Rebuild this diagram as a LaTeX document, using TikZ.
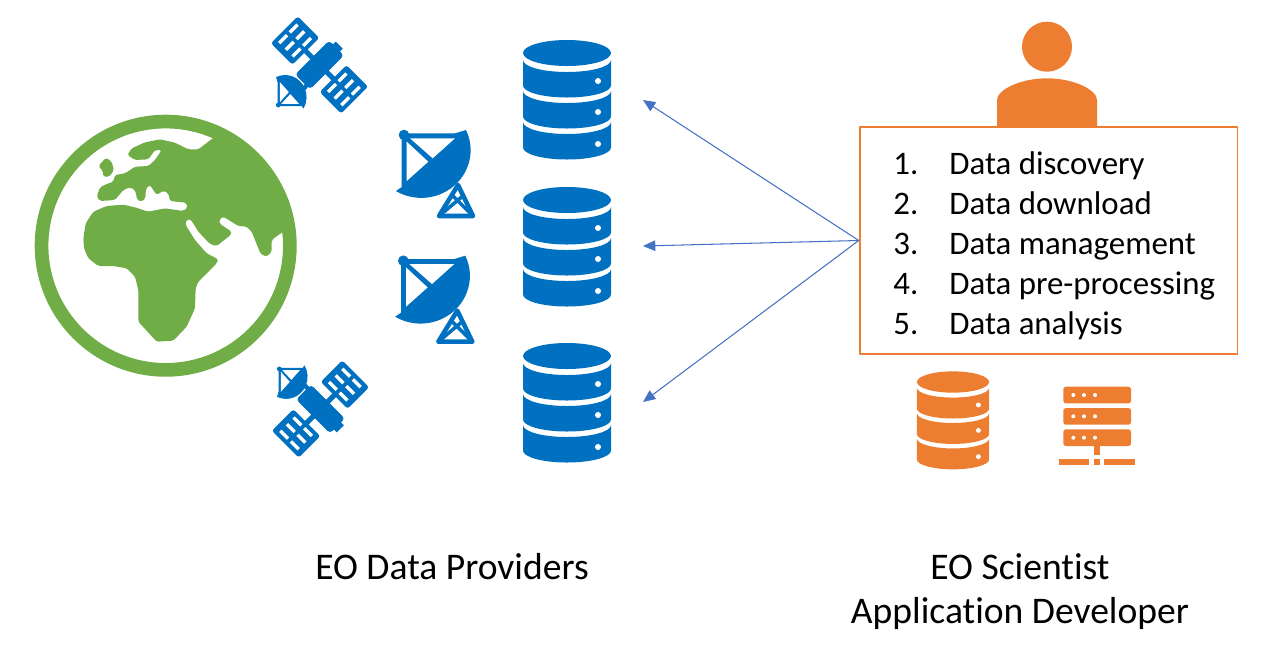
\documentclass[tikz,border=0pt]{standalone}
\usepackage{fontspec}
\setmainfont{Carlito}[Ligatures=CommonOff]
\usetikzlibrary{arrows.meta}
\definecolor{eoblue}{HTML}{0070C0}
\definecolor{eogreen}{HTML}{70AD47}
\definecolor{eoorange}{HTML}{ED7D31}
\definecolor{eoarrow}{HTML}{4472C4}
\newcommand{\dishhead}[1]{
	\fill[#1] (62,-5) arc[start angle=-25,end angle=121,x radius=49.3,y radius=47.7] -- (-2.3,52) -- (-2.3,0) -- (0,-1.7) -- (51,-1.7) -- cycle;
	\fill[#1] (0,0) circle[radius=5.3];
	\fill[white] (6,3.3) -- (51,3.3) -- (28.7,23.3) -- cycle;
	\fill[white] (2.7,6.7) -- (24.3,26.7) -- (2.7,46) -- cycle;
}
\tikzset{
	pics/dbstack/.style={code={
		\fill[#1] (0,0) ellipse[x radius=44,y radius=13];
		\foreach \ytop/\ydot in {7/28,38/59,69/91}{
			\fill[#1] (-44,\ytop) arc[start angle=180,end angle=0,x radius=44,y radius=12] -- ++(0,25.5) arc[start angle=0,end angle=180,x radius=44,y radius=12] -- cycle;
			\fill[white] (31,\ydot) circle[radius=3];
		}
	}},
	pics/dishstation/.style={code={
		\dishhead{#1}
		\draw[#1,line width=2.6pt] (54,50) -- (35,81) -- (69,81) -- cycle;
		\draw[#1,line width=2pt] (35,81) -- (60,60) (69,81) -- (48,60);
	}},
	pics/satellite/.style={code={
		\begin{scope}[rotate=-45]
			\fill[#1,rounded corners=2pt] (-10.5,-24) rectangle (10.5,24);
			\fill[#1] (-5,-28) rectangle (5,-20);
			\fill[#1] (-21,-2.5) rectangle (21,2.5);
			\foreach \cx in {-34.5,34.5}{
				\fill[#1,rounded corners=1.5pt] (\cx-15.2,-19) rectangle (\cx+15.2,19);
				\foreach \sx in {-9.4,0,9.4}
					\foreach \sy in {-7.5,7.5}
						\fill[white] (\cx+\sx-1.7,\sy-5.5) rectangle (\cx+\sx+1.7,\sy+5.5);
			}
		\end{scope}
		\draw[#1,line width=2.5pt] (-16,24) -- (-8,15);
		\begin{scope}[shift={(-41.2,40.1)},rotate=90,scale=.45]
			\dishhead{#1}
		\end{scope}
	}},
	listtext/.style={anchor=base west,inner sep=0pt,font=\fontsize{18.7}{20}\selectfont},
	captiontext/.style={anchor=base,inner sep=0pt,font=\fontsize{21.4}{24}\selectfont},
	taskbox/.style={draw=eoorange,line width=1.1pt,minimum width=215pt,minimum height=129pt,inner sep=0pt}
}
\begin{document}
\begin{tikzpicture}[line join=round,>={Triangle[length=7pt,width=6pt]},x=0.02cm,y=-0.02cm]
	\useasboundingbox (0,0) rectangle (1263,657);
	%Earth.
	\fill[eogreen,even odd rule] (165.7,245.7) circle[radius=131] (165.7,245.7) circle[radius=117.3];
	\begin{scope}[shift={(20,100)},scale=1/3]
		\fill[eogreen,rounded corners=1pt] (190,415)--(197,370)--(220,335)--(260,318)--(310,314)--(345,322)--(385,335)--(435,325)--(490,333)--(503,322)--(498,308)--(450,303)--(445,280)--(430,272)--(410,285)--(390,255)--(378,265)--(376,295)--(365,305)--(352,300)--(345,270)--(330,262)--(310,270)--(285,300)--(240,303)--(230,290)--(240,262)--(260,252)--(280,245)--(285,225)--(315,220)--(345,200)--(385,198)--(405,180)--(425,150)--(405,150)--(385,178)--(345,180)--(322,165)--(335,145)--(375,127)--(420,118)--(465,128)--(505,148)--(535,148)--(578,115)--(610,95)--(690,145)--(760,220)--(800,330)--(800,390)--(785,398)--(755,420)--(755,455)--(740,470)--(722,462)--(695,395)--(680,380)--(655,378)--(610,350)--(597,360)--(600,372)--(635,395)--(632,405)--(590,438)--(570,432)--(535,395)--(512,358)--(498,360)--(497,375)--(525,420)--(560,460)--(595,478)--(590,490)--(535,545)--(527,565)--(525,625)--(500,680)--(460,722)--(410,725)--(355,665)--(355,570)--(345,530)--(320,505)--(280,498)--(235,498)--(205,475)--(192,445)--cycle;
		\fill[eogreen,rounded corners=1pt] (235,198)--(258,173)--(275,185)--(282,210)--(268,230)--(250,230)--(248,212)--cycle;
	\end{scope}
	%Satellites and dishes.
	\pic (sattop) at (319.5,64.9) {satellite=eoblue};
	\pic[yscale=-1] (satbottom) at (320.5,409) {satellite=eoblue};
	\pic (dishtop) at (404,135) {dishstation=eoblue};
	\pic (dishbottom) at (403.3,260.7) {dishstation=eoblue};
	%Data stores.
	\pic (dbone) at (567,53) {dbstack=eoblue};
	\pic (dbtwo) at (567,200) {dbstack=eoblue};
	\pic (dbthree) at (567,356) {dbstack=eoblue};
	\pic[scale=.82] (dbown) at (953,382) {dbstack=eoorange};
	%Person.
	\fill[eoorange] (1047,46.7) circle[radius=25];
	\fill[eoorange] (997,127)--(997,100) .. controls (997,90) and (1020,78.3) .. (1047,78.3) .. controls (1074,78.3) and (1097,90) .. (1097,100)--(1097,127)--cycle;
	%Task list.
	\node[taskbox,fill=white] (tasks) at (1048.6,240.5) {};
	\foreach \n/\ybase/\txt in {1/174.5/Data discovery,2/214.5/Data download,3/254.5/Data management,4/294.5/Data pre-processing,5/334.5/Data analysis}{
		\node[listtext] (num\n) at (893,\ybase) {\n.};
		\node[listtext] (item\n) at (949,\ybase) {\txt};
	}
	%Server.
	\foreach \ytop/\ydot in {386.7/395,408/416.3,429.3/437.7}{
		\fill[eoorange,rounded corners=1.5pt] (1063.3,\ytop) rectangle (1131,\ytop+16.7);
		\foreach \xdot in {1073.3,1084,1095}
			\fill[white] (\xdot,\ydot) circle[radius=2];
	}
	\fill[eoorange] (1093.7,446) rectangle (1100.3,455);
	\fill[eoorange] (1058.7,459) rectangle (1089.3,465.3);
	\fill[eoorange] (1093.7,459) rectangle (1100.3,465.3);
	\fill[eoorange] (1104.3,459) rectangle (1135.3,465.3);
	%Arrows.
	\coordinate (toone) at (643,100);
	\coordinate (totwo) at (643,246);
	\coordinate (tothree) at (643,402);
	\draw[->,eoarrow,line width=0.6pt] (tasks.west)--(toone);
	\draw[->,eoarrow,line width=0.6pt] (tasks.west)--(totwo);
	\draw[->,eoarrow,line width=0.6pt] (tasks.west)--(tothree);
	%Captions.
	\node[captiontext] (providers) at (452,579) {EO Data Providers};
	\node[captiontext] (scientist) at (1020,579) {EO Scientist};
	\node[captiontext] (developer) at (1020,623.5) {Application Developer};
\end{tikzpicture}
\end{document}
